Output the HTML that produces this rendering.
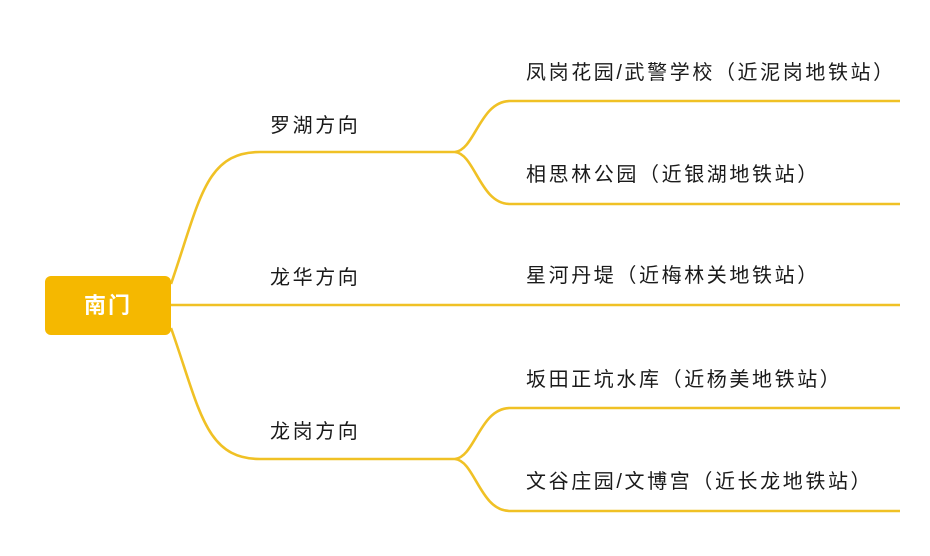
<!DOCTYPE html>
<html><head><meta charset="utf-8"><style>
html,body{margin:0;padding:0;background:#fff;width:930px;height:556px;overflow:hidden}
.t{position:absolute;font-family:"Liberation Sans","Noto Sans CJK SC",sans-serif;font-size:20px;color:#1a1a1a;line-height:24px;white-space:nowrap;letter-spacing:2.6px}
.box{position:absolute;left:45px;top:276px;width:126px;height:59px;background:#f5b800;border-radius:6px;color:#fff;font-family:"Liberation Sans","Noto Sans CJK SC",sans-serif;font-size:22px;font-weight:bold;line-height:59px;text-align:center;letter-spacing:2px}
</style></head><body>
<svg width="930" height="556" style="position:absolute;left:0;top:0" fill="none" stroke="#f0c125" stroke-width="2.6">
<path d="M171 284 C200 200,205 152,260 152 L455 152"/>
<path d="M171 305 L900 305"/>
<path d="M171 328 C200 410,205 459,260 459 L455 459"/>
<path d="M455 152 C475 150,480 101,510 101 L900 101"/>
<path d="M455 152 C475 154,480 204,510 204 L900 204"/>
<path d="M455 459 C475 457,480 408,510 408 L900 408"/>
<path d="M455 459 C475 461,480 511,510 511 L900 511"/>
</svg>
<div class="box">南门</div>
<div class="t" style="left:270px;top:114px">罗湖方向</div>
<div class="t" style="left:270px;top:266px">龙华方向</div>
<div class="t" style="left:270px;top:420px">龙岗方向</div>
<div class="t" style="left:526px;top:61px">凤岗花园/武警学校（近泥岗地铁站）</div>
<div class="t" style="left:526px;top:163px">相思林公园（近银湖地铁站）</div>
<div class="t" style="left:526px;top:264px">星河丹堤（近梅林关地铁站）</div>
<div class="t" style="left:526px;top:368px">坂田正坑水库（近杨美地铁站）</div>
<div class="t" style="left:526px;top:470px">文谷庄园/文博宫（近长龙地铁站）</div>
</body></html>
